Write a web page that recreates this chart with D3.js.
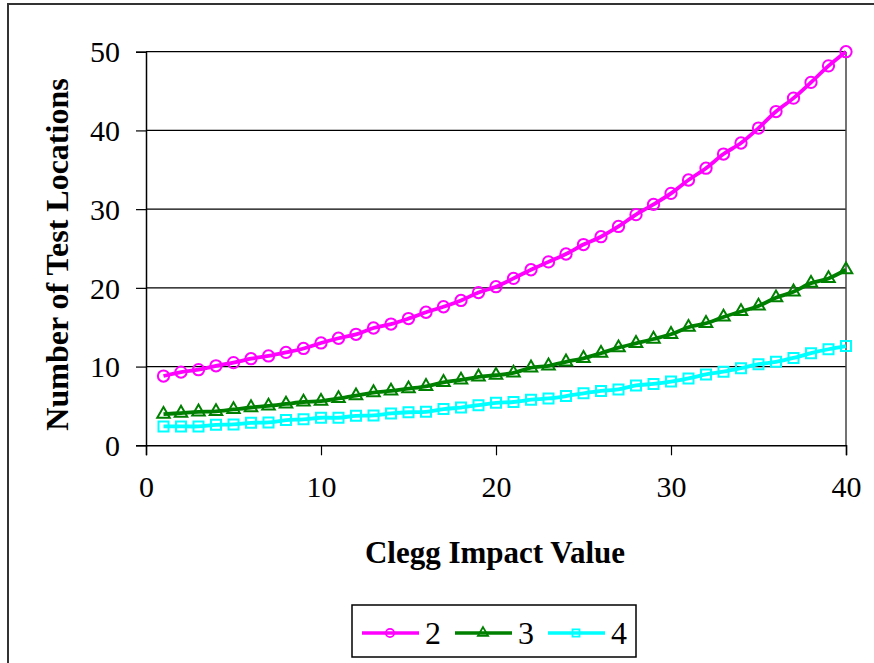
<!DOCTYPE html>
<head>
<meta charset="utf-8">
<style type="text/css">
body { margin: 0; background: #fff; }
text { font-family: "Liberation Serif", "Times New Roman", serif; fill: #000; }
</style>
</head>
<body>
<script src="https://cdn.jsdelivr.net/npm/d3@7"></script>
<script type="text/javascript">
  // Clegg impact values 1..40
  var impact = d3.range(1, 41);
  var seriesNames = ['2', '3', '4'];
  var s2 = [8.8, 9.3, 9.6, 10.1, 10.5, 11.0, 11.35, 11.8, 12.3, 13.0,
            13.6, 14.1, 14.9, 15.4, 16.1, 16.9, 17.6, 18.4, 19.4, 20.15,
            21.2, 22.3, 23.3, 24.3, 25.5, 26.5, 27.8, 29.3, 30.6, 32.0,
            33.7, 35.2, 37.0, 38.4, 40.3, 42.4, 44.1, 46.1, 48.2, 50.0];
  var s3 = [3.95, 4.1, 4.25, 4.3, 4.55, 4.8, 5.0, 5.25, 5.5, 5.6,
            5.95, 6.3, 6.7, 6.9, 7.2, 7.5, 8.0, 8.3, 8.7, 8.9,
            9.2, 9.85, 10.1, 10.6, 11.05, 11.7, 12.4, 12.95, 13.5, 14.1,
            15.0, 15.5, 16.3, 17.0, 17.7, 18.75, 19.5, 20.6, 21.2, 22.3];
  var s4 = [2.4, 2.4, 2.4, 2.6, 2.65, 2.85, 2.9, 3.2, 3.3, 3.5,
            3.5, 3.75, 3.8, 4.05, 4.2, 4.25, 4.6, 4.8, 5.1, 5.4,
            5.5, 5.8, 5.95, 6.25, 6.6, 6.9, 7.1, 7.6, 7.8, 8.1,
            8.5, 9.0, 9.35, 9.8, 10.3, 10.6, 11.1, 11.7, 12.2, 12.6];
  var xTicks = [0, 10, 20, 30, 40];
  var yTicks = [0, 10, 20, 30, 40, 50];

  var colors = ['#FF00FF', '#008000', '#00FFFF'];
  var symbols = [d3.symbolCircle, d3.symbolTriangle, d3.symbolSquare];
  var plotSizes = [100, 68, 100];
  var legendSizes = [55, 45, 50];
  var allSeries = [s2, s3, s4];

  var W = 874, H = 663;
  var svg = d3.select('body').append('svg')
          .attr('width', W)
          .attr('height', H);

  // chart frame (runs off the right and bottom of the picture)
  svg.append('rect')
          .attr('x', 8).attr('y', 4)
          .attr('width', 900).attr('height', 700)
          .attr('fill', 'white')
          .attr('stroke', '#333')
          .attr('stroke-width', 2);

  var pLeft = 146, pRight = 846, pTop = 51.7, pBottom = 445.3;

  var x = d3.scaleLinear().domain([0, 40]).range([pLeft, pRight]);
  var y = d3.scaleLinear().domain([0, 50]).range([pBottom, pTop]);

  // gridlines
  svg.append('g').selectAll('line')
          .data(yTicks.filter(function(d){ return d > 0; }))
          .enter().append('line')
          .attr('x1', pLeft).attr('x2', pRight)
          .attr('y1', function(d){ return y(d); })
          .attr('y2', function(d){ return y(d); })
          .attr('stroke', '#000')
          .attr('stroke-width', 1.2);

  // right edge of plot area
  svg.append('line')
          .attr('x1', pRight).attr('x2', pRight)
          .attr('y1', pTop).attr('y2', pBottom)
          .attr('stroke', '#444')
          .attr('stroke-width', 1.5);

  // axes
  var xAxis = d3.axisBottom(x).tickValues(xTicks).tickSize(10).tickPadding(20);
  var yAxis = d3.axisLeft(y).tickValues(yTicks).tickSize(10).tickPadding(16);

  var gx = svg.append('g').attr('transform', 'translate(0,' + pBottom + ')').call(xAxis);
  var gy = svg.append('g').attr('transform', 'translate(' + pLeft + ',0)').call(yAxis);
  [gx, gy].forEach(function(g){
    g.select('.domain').attr('stroke', '#000').attr('stroke-width', 1.5);
    g.selectAll('.tick line').attr('stroke', '#000').attr('stroke-width', 1.2);
    g.selectAll('.tick text')
            .style('font-family', '"Liberation Serif", serif')
            .style('font-size', '30px')
            .attr('fill', '#000');
  });
  gy.selectAll('.tick text').attr('dy', '0.34em');

  // axis titles
  svg.append('text')
          .attr('x', (pLeft + pRight) / 2 - 1)
          .attr('y', 563)
          .attr('text-anchor', 'middle')
          .style('font-size', '31px')
          .style('font-weight', 'bold')
          .text('Clegg Impact Value');

  svg.append('text')
          .attr('transform', 'translate(68,' + ((pTop + pBottom) / 2 + 6) + ') rotate(-90)')
          .attr('text-anchor', 'middle')
          .style('font-size', '32px')
          .style('font-weight', 'bold')
          .text('Number of Test Locations');

  // series
  var line = d3.line()
          .x(function(d){ return x(d[0]); })
          .y(function(d){ return y(d[1]); })
          .curve(d3.curveCatmullRom.alpha(0.5));

  allSeries.forEach(function(vals, k){
    var pts = impact.map(function(v, i){ return [v, vals[i]]; });
    var g = svg.append('g');
    g.append('path')
            .datum(pts)
            .attr('d', line)
            .attr('fill', 'none')
            .attr('stroke', colors[k])
            .attr('stroke-width', 3.8);
    g.selectAll('path.pt')
            .data(pts)
            .enter().append('path')
            .attr('class', 'pt')
            .attr('transform', function(d){ return 'translate(' + x(d[0]) + ',' + y(d[1]) + ')'; })
            .attr('d', d3.symbol().type(symbols[k]).size(plotSizes[k]))
            .attr('fill', 'none')
            .attr('stroke', colors[k])
            .attr('stroke-width', 2);
  });

  // legend
  var legend = svg.append('g');
  legend.append('rect')
          .attr('x', 352).attr('y', 605)
          .attr('width', 284).attr('height', 52)
          .attr('fill', 'white')
          .attr('stroke', '#000')
          .attr('stroke-width', 1.5);

  var legendX = [362, 455, 548];
  seriesNames.forEach(function(name, k){
    var lx = legendX[k], ly = 633;
    legend.append('line')
            .attr('x1', lx).attr('x2', lx + 57)
            .attr('y1', ly).attr('y2', ly)
            .attr('stroke', colors[k])
            .attr('stroke-width', 3.4);
    legend.append('path')
            .attr('transform', 'translate(' + (lx + 28) + ',' + ly + ')')
            .attr('d', d3.symbol().type(symbols[k]).size(legendSizes[k]))
            .attr('fill', 'none')
            .attr('stroke', colors[k])
            .attr('stroke-width', 1.8);
    legend.append('text')
            .attr('x', lx + 63)
            .attr('y', ly + 11)
            .style('font-size', '32px')
            .text(name);
  });
</script>
</body>
